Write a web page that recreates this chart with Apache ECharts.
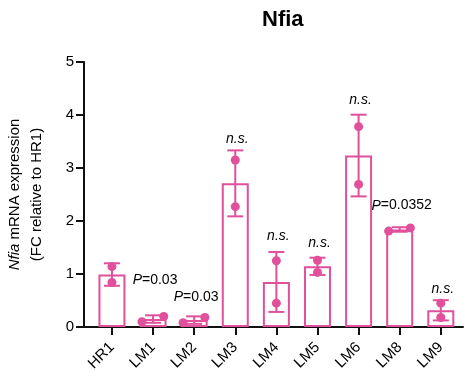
<!DOCTYPE html>
<html>
<head>
<meta charset="utf-8">
<script src="https://cdn.jsdelivr.net/npm/echarts@6/dist/echarts.min.js"></script>
<style>
  html, body { margin: 0; padding: 0; background: #fff; }
  #chart { width: 465px; height: 378px; }
</style>
</head>
<body>
<div id="chart"></div>
<script>
// groups and the two replicate values per group (FC relative to HR1)
const groups = ["HR1", "LM1", "LM2", "LM3", "LM4", "LM5", "LM6", "LM8", "LM9"];
const rep1 = [1.14, 0.10, 0.08, 3.15, 1.25, 1.26, 3.78, 1.81, 0.45];
const rep2 = [0.84, 0.20, 0.18, 2.27, 0.45, 1.03, 2.69, 1.87, 0.18];
// significance text shown above each group, and the level it sits at
const annoText = ["", "P=0.03", "P=0.03", "n.s.", "n.s.", "n.s.", "n.s.", "P=0.0352", "n.s."];
const annoLevel = [0, 0.89, 0.57, 3.55, 1.72, 1.59, 4.28, 2.29, 0.72];

const pink = "#E0509B";
const ink = "#111";
const font = "'Liberation Sans', Arial, Helvetica, sans-serif";
const groupPos = groups.map((g, i) => i);

// mean and sample SD of the replicates
const means = groups.map((g, i) => (rep1[i] + rep2[i]) / 2);
const sds = groups.map((g, i) => Math.abs(rep1[i] - rep2[i]) / Math.SQRT2);

// points that would overlap get pushed apart sideways
const points = [];
groups.forEach((g, i) => {
  const close = Math.abs(rep1[i] - rep2[i]) < 0.15;
  const lo = Math.min(rep1[i], rep2[i]);
  [rep1[i], rep2[i]].forEach(v => {
    let dx = 0;
    if (close) dx = v === lo ? -0.27 : 0.26;
    points.push([i + dx, v]);
  });
});

const chart = echarts.init(document.getElementById("chart"));

const option = {
  animation: false,
  title: {
    text: "Nfia",
    left: 257,
    top: 4,
    textStyle: { fontFamily: font, fontSize: 22, fontWeight: "bold", color: "#000" }
  },
  grid: { left: 84, right: 2, top: 62, bottom: 51, outerBoundsMode: "none" },
  xAxis: {
    type: "value",
    min: -0.68,
    max: 8.54,
    position: "bottom",
    splitLine: { show: false },
    axisLine: { show: true, onZero: false, lineStyle: { color: ink, width: 2 } },
    axisTick: { show: true, length: 8, customValues: groupPos, lineStyle: { color: ink, width: 2 } },
    axisLabel: {
      customValues: groupPos,
      formatter: v => groups[Math.round(v)] || "",
      rotate: 45,
      margin: 18,
      fontFamily: font,
      fontSize: 15,
      color: "#000"
    }
  },
  yAxis: {
    type: "value",
    min: 0,
    max: 5,
    interval: 1,
    position: "left",
    name: "{i|Nfia} mRNA expression\n(FC relative to HR1)",
    nameLocation: "middle",
    nameGap: 36,
    nameMoveOverlap: false,
    nameTextStyle: {
      fontFamily: font,
      fontSize: 15,
      color: "#000",
      lineHeight: 22,
      rich: { i: { fontStyle: "italic", fontFamily: font, fontSize: 15, color: "#000" } }
    },
    splitLine: { show: false },
    axisLine: { show: true, onZero: false, lineStyle: { color: ink, width: 2 } },
    axisTick: { show: true, length: 8, lineStyle: { color: ink, width: 2 } },
    axisLabel: { fontFamily: font, fontSize: 15, color: "#000", margin: 10 }
  },
  series: [
    {
      type: "bar",
      data: means.map((m, i) => [i, m]),
      barWidth: 27,
      itemStyle: { color: "#fff", borderColor: pink, borderWidth: 2 },
      z: 2
    },
    {
      type: "custom",
      data: means.map((m, i) => [i, m + sds[i], m - sds[i]]),
      renderItem: (params, api) => {
        const top = api.coord([api.value(0), api.value(1)]);
        const bot = api.coord([api.value(0), api.value(2)]);
        const cap = 8;
        const st = { stroke: pink, lineWidth: 2 };
        return {
          type: "group",
          children: [
            { type: "line", shape: { x1: top[0], y1: top[1], x2: bot[0], y2: bot[1] }, style: st },
            { type: "line", shape: { x1: top[0] - cap, y1: top[1], x2: top[0] + cap, y2: top[1] }, style: st },
            { type: "line", shape: { x1: bot[0] - cap, y1: bot[1], x2: bot[0] + cap, y2: bot[1] }, style: st }
          ]
        };
      },
      z: 3
    },
    {
      type: "scatter",
      data: points,
      symbol: "circle",
      symbolSize: 9,
      itemStyle: { color: pink, opacity: 1 },
      z: 4
    },
    {
      type: "custom",
      data: annoLevel.map((lv, i) => [i, lv]),
      renderItem: (params, api) => {
        const txt = annoText[params.dataIndex];
        if (!txt) return null;
        const p = api.coord([api.value(0), api.value(1)]);
        const rich = txt === "n.s." ? "{it|n.s.}" : "{it|P}{n|" + txt.slice(1) + "}";
        return {
          type: "text",
          x: p[0] + 2,
          y: p[1],
          style: {
            text: rich,
            align: "center",
            verticalAlign: "middle",
            rich: {
              it: { fontStyle: "italic", fontFamily: font, fontSize: 14, fill: "#000" },
              n: { fontFamily: font, fontSize: 14, fill: "#000" }
            }
          }
        };
      },
      z: 5
    }
  ]
};

chart.setOption(option);
</script>
</body>
</html>
